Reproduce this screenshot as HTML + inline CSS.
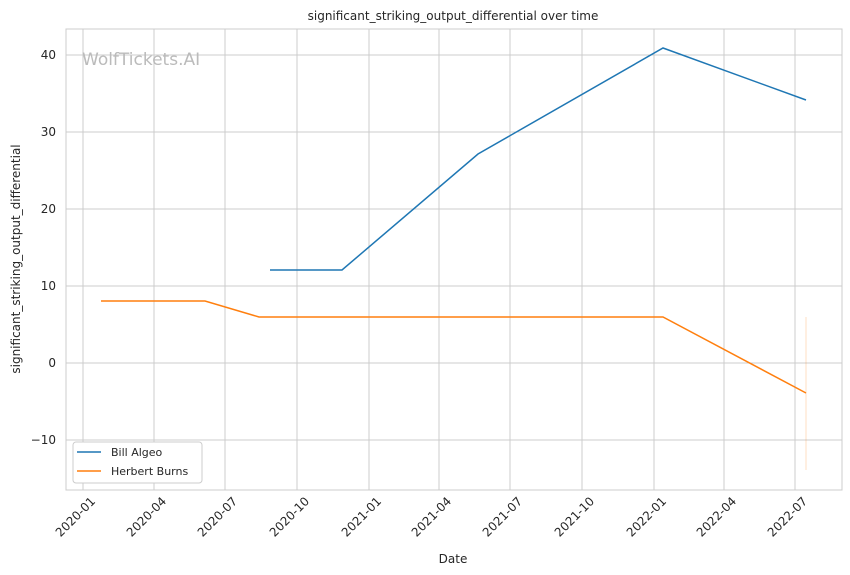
<!DOCTYPE html>
<html><head><meta charset="utf-8"><style>body{margin:0;background:#fff}svg{display:block}text{font-family:"DejaVu Sans","Liberation Sans",sans-serif;fill:#262626}</style></head>
<body>
<svg width="850" height="575" xmlns="http://www.w3.org/2000/svg">
<rect x="66" y="29" width="776" height="461" fill="#fff" stroke="#cccccc" stroke-width="1"/>
<g stroke="#cccccc" stroke-width="1">
<line x1="83" y1="29" x2="83" y2="490"/><line x1="154" y1="29" x2="154" y2="490"/><line x1="225" y1="29" x2="225" y2="490"/><line x1="297" y1="29" x2="297" y2="490"/><line x1="369" y1="29" x2="369" y2="490"/><line x1="439" y1="29" x2="439" y2="490"/><line x1="510" y1="29" x2="510" y2="490"/><line x1="582" y1="29" x2="582" y2="490"/><line x1="654" y1="29" x2="654" y2="490"/><line x1="724" y1="29" x2="724" y2="490"/><line x1="795" y1="29" x2="795" y2="490"/>
<line x1="66" y1="55" x2="842" y2="55"/><line x1="66" y1="132" x2="842" y2="132"/><line x1="66" y1="209" x2="842" y2="209"/><line x1="66" y1="286" x2="842" y2="286"/><line x1="66" y1="363" x2="842" y2="363"/><line x1="66" y1="440" x2="842" y2="440"/>
</g>
<text x="82" y="65" font-size="17" style="fill:#bbbbbb">WolfTickets.AI</text>
<line x1="806" y1="317" x2="806" y2="470" stroke="#ff7f0e" stroke-opacity="0.25" stroke-width="1"/>
<polyline points="270,270 342,270 478,154 663,48 806,100" fill="none" stroke="#1f77b4" stroke-width="1.5"/>
<polyline points="101,301 205,301 259,317 663,317 806,393" fill="none" stroke="#ff7f0e" stroke-width="1.5"/>
<g font-size="12" text-anchor="end">
<text x="56" y="59">40</text><text x="56" y="136">30</text><text x="56" y="213">20</text><text x="56" y="290">10</text><text x="56" y="367">0</text><text x="56" y="444">−10</text>
</g>
<g font-size="12" text-anchor="end">
<text transform="translate(96,502) rotate(-45)">2020-01</text>
<text transform="translate(167,502) rotate(-45)">2020-04</text>
<text transform="translate(238,502) rotate(-45)">2020-07</text>
<text transform="translate(310,502) rotate(-45)">2020-10</text>
<text transform="translate(382,502) rotate(-45)">2021-01</text>
<text transform="translate(452,502) rotate(-45)">2021-04</text>
<text transform="translate(523,502) rotate(-45)">2021-07</text>
<text transform="translate(595,502) rotate(-45)">2021-10</text>
<text transform="translate(667,502) rotate(-45)">2022-01</text>
<text transform="translate(737,502) rotate(-45)">2022-04</text>
<text transform="translate(808,502) rotate(-45)">2022-07</text>
</g>
<text x="453" y="563" font-size="12" text-anchor="middle">Date</text>
<text transform="translate(20,259) rotate(-90)" font-size="12" text-anchor="middle">significant_striking_output_differential</text>
<text x="453" y="20" font-size="12" text-anchor="middle">significant_striking_output_differential over time</text>
<rect x="73" y="442" width="129" height="41" rx="3" fill="#fff" stroke="#cccccc"/>
<line x1="77" y1="452" x2="101" y2="452" stroke="#1f77b4" stroke-width="1.5"/>
<line x1="77" y1="471" x2="101" y2="471" stroke="#ff7f0e" stroke-width="1.5"/>
<text x="111" y="456" font-size="11">Bill Algeo</text>
<text x="111" y="475" font-size="11">Herbert Burns</text>
</svg>
</body></html>
